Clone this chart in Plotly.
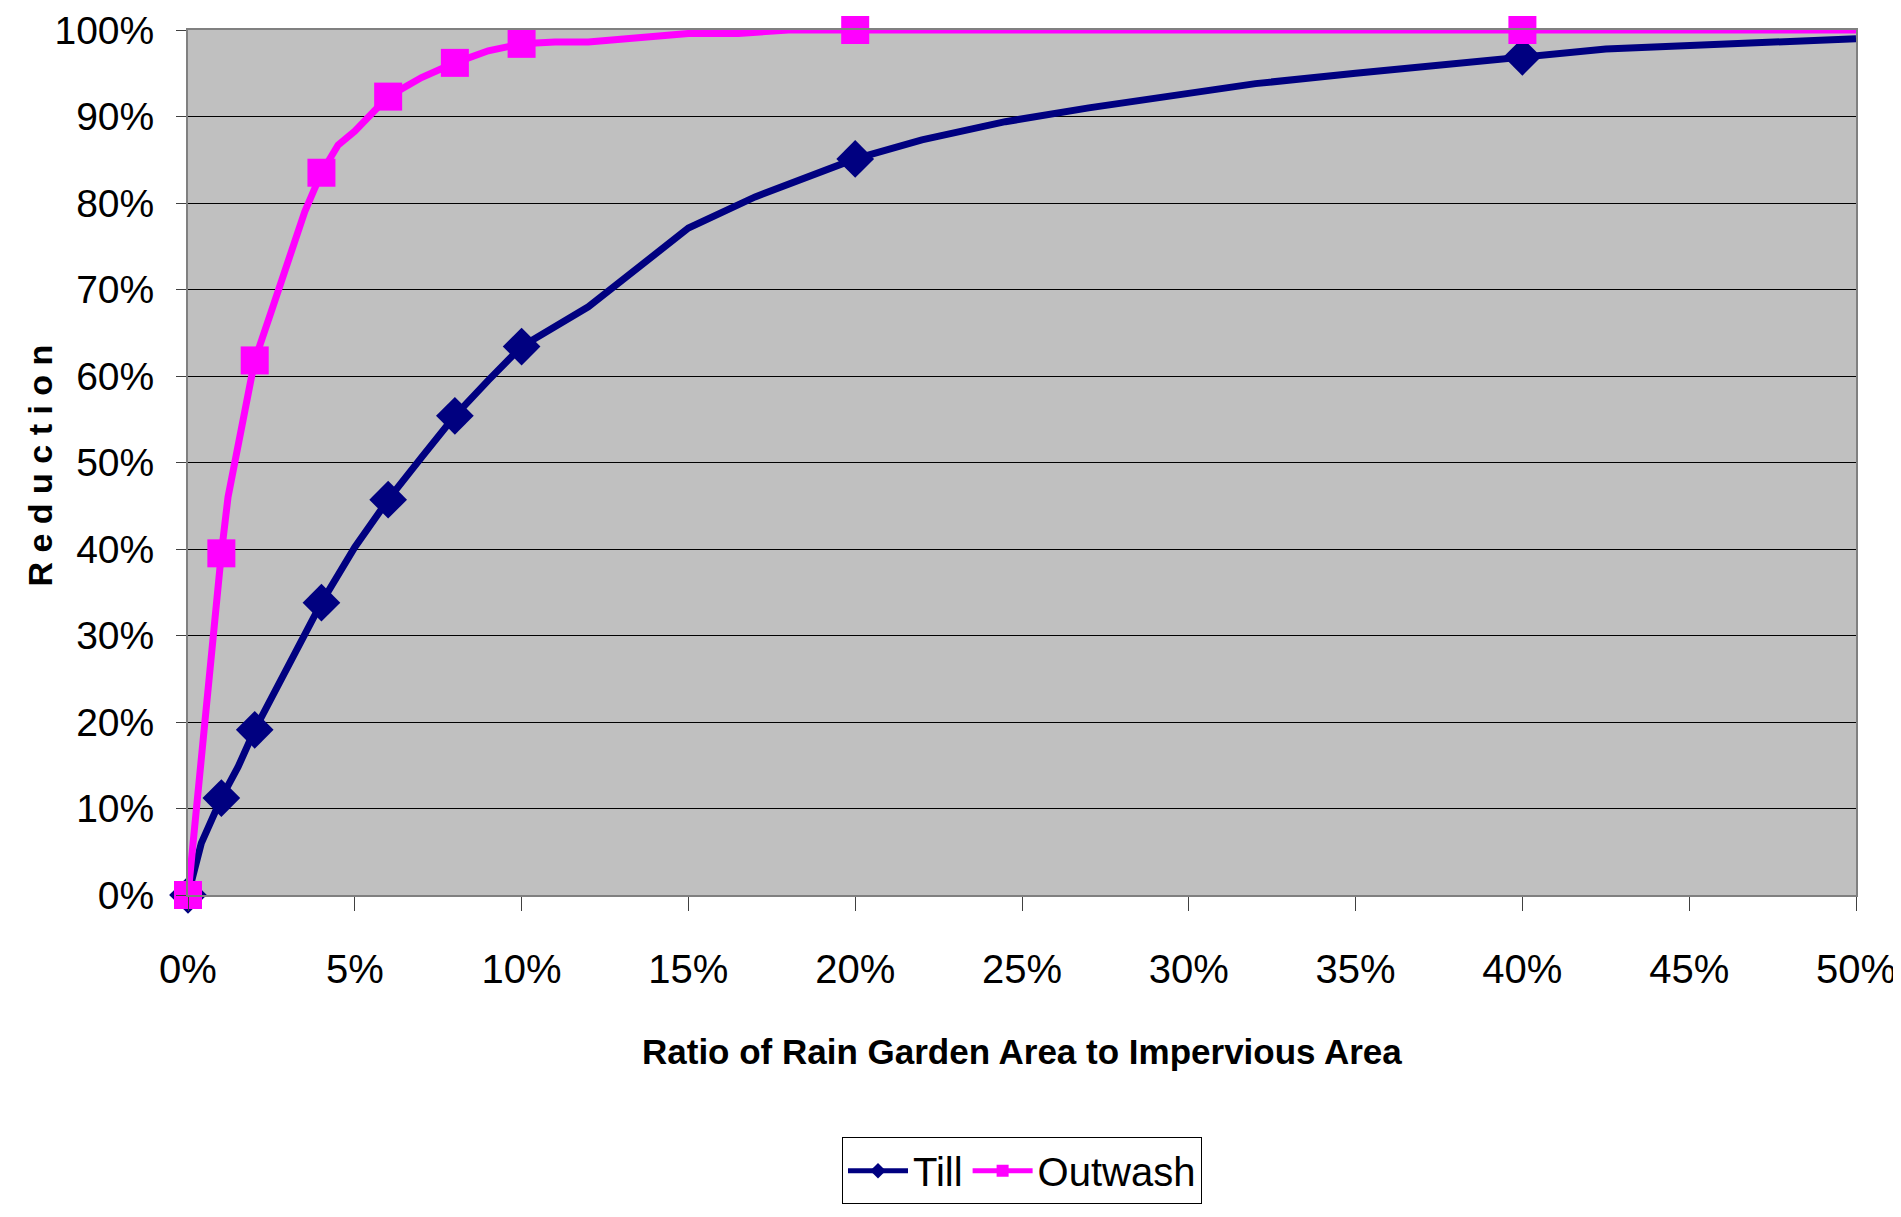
import plotly.graph_objects as go

# ---- data (ratio of rain garden area to impervious area, % ; reduction, %) ----
till_x = [0, 0.4, 1, 1.5, 2, 3, 4, 5, 6, 7, 8, 9, 10, 12, 13, 14, 15, 17, 18.5,
          20, 22, 23, 24.5, 27, 30, 32, 35, 38, 40, 42.5, 50]
till_y = [0, 6, 11.2, 14.8, 19.1, 26.5, 33.8, 40.2, 45.7, 50.6, 55.4, 59.5, 63.4,
          68.0, 71.0, 74.0, 77.1, 80.7, 83.0, 85.1, 87.3, 88.1, 89.4, 91.0, 92.6,
          93.8, 95.0, 96.2, 96.9, 97.8, 99.0]

outwash_x = [0, 0.5, 1, 1.2, 1.8, 2, 2.5, 3.5, 4, 4.5, 5, 6, 7, 8, 9, 10, 11, 12,
             15, 16.5, 18, 20, 40, 50]
outwash_y = [0, 20.7, 39.5, 46, 58, 61.8, 67.5, 79, 83.5, 86.7, 88.3, 92.3, 94.5,
             96.2, 97.6, 98.4, 98.6, 98.6, 99.6, 99.6, 100, 100, 100, 100]

marked_x = [0, 1, 2, 4, 6, 8, 10, 20, 40]

x_ticks = [0, 5, 10, 15, 20, 25, 30, 35, 40, 45, 50]
y_ticks = [0, 10, 20, 30, 40, 50, 60, 70, 80, 90, 100]

NARROW = "Liberation Sans Narrow, Arial Narrow, Liberation Sans, Arial, sans-serif"
WIDE = "Liberation Sans, Arial, sans-serif"


def sizes(xs, s):
    return [s if x in marked_x else 0 for x in xs]


fig = go.Figure()
fig.add_trace(go.Scatter(
    x=[v / 100 for v in till_x], y=[v / 100 for v in till_y],
    mode="lines+markers", name="Till",
    line=dict(color="#000080", width=7),
    marker=dict(symbol="diamond", size=sizes(till_x, 29), color="#000080",
                opacity=1, line=dict(width=0)),
    cliponaxis=False,
))
fig.add_trace(go.Scatter(
    x=[v / 100 for v in outwash_x], y=[v / 100 for v in outwash_y],
    mode="lines+markers", name="Outwash",
    line=dict(color="#FF00FF", width=7),
    marker=dict(symbol="square", size=sizes(outwash_x, 28), color="#FF00FF",
                opacity=1, line=dict(width=0)),
    cliponaxis=False,
))

fig.update_layout(
    width=1893, height=1209,
    margin=dict(l=180, r=45, t=22, b=322, autoexpand=False),
    paper_bgcolor="white",
    plot_bgcolor="#C0C0C0",
    font=dict(family=NARROW, color="black", size=40),
    showlegend=True,
    legend=dict(
        orientation="h", x=0.5, xanchor="center", y=-0.28, yanchor="top",
        bordercolor="black", borderwidth=1, bgcolor="white",
        font=dict(family=NARROW, size=40), itemsizing="constant",
        itemwidth=60,
    ),
    annotations=[
        dict(text="<b>Ratio of Rain Garden Area to Impervious Area</b>",
             xref="paper", yref="paper", x=0.5, y=-0.1815,
             xanchor="center", yanchor="middle", showarrow=False,
             font=dict(family=NARROW, size=35)),
        dict(text="<b>R e d u c t i o n</b>",
             xref="paper", yref="paper", x=-0.089, y=0.496,
             xanchor="center", yanchor="middle", showarrow=False, textangle=-90,
             font=dict(family=WIDE, size=34)),
    ],
)

fig.update_xaxes(
    range=[0, 0.5], tickvals=[v / 100 for v in x_ticks],
    ticktext=[f"{v}%" for v in x_ticks],
    showgrid=False, zeroline=False, automargin=False,
    showline=True, linecolor="#808080", linewidth=2, mirror=True,
    ticks="outside", ticklen=14, tickwidth=1, tickcolor="#404040",
    ticklabelstandoff=24, ticklabeloverflow="allow",
    tickfont=dict(family=NARROW, size=40),
)
fig.update_yaxes(
    range=[0, 1], tickvals=[v / 100 for v in y_ticks],
    ticktext=[f"{v}%" for v in y_ticks],
    showgrid=True, gridcolor="black", gridwidth=1, zeroline=False, automargin=False,
    showline=True, linecolor="#808080", linewidth=2, mirror=True,
    ticks="outside", ticklen=10, tickwidth=1, tickcolor="#404040",
    ticklabelstandoff=14, ticklabeloverflow="allow",
    tickfont=dict(family=NARROW, size=39),
)

fig.write_html("out.html")
